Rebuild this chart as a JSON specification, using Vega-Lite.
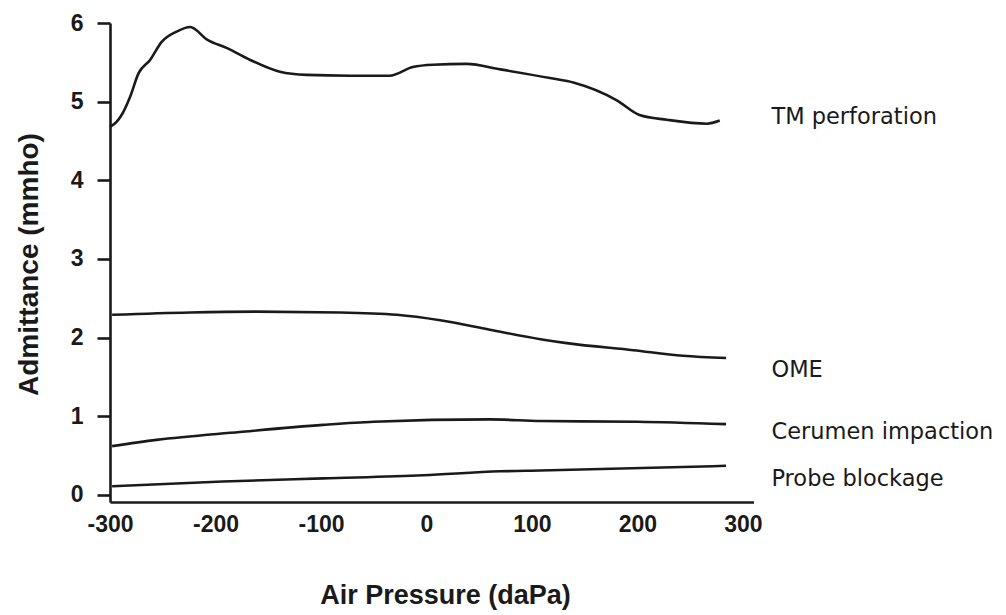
{
  "$schema": "https://vega.github.io/schema/vega-lite/v6.json",
  "width": 643.5,
  "height": 479,
  "autosize": "none",
  "padding": {"left": 110, "top": 23, "right": 252.5, "bottom": 113},
  "background": "white",
  "config": {"view": {"stroke": null}},
  "datasets": {
    "curves": [
      {"series": "TM perforation", "pressure": -300, "admittance": 4.68},
      {"series": "TM perforation", "pressure": -294, "admittance": 4.74},
      {"series": "TM perforation", "pressure": -289, "admittance": 4.83},
      {"series": "TM perforation", "pressure": -281, "admittance": 5.06},
      {"series": "TM perforation", "pressure": -273, "admittance": 5.36},
      {"series": "TM perforation", "pressure": -262, "admittance": 5.53},
      {"series": "TM perforation", "pressure": -251, "admittance": 5.76},
      {"series": "TM perforation", "pressure": -237, "admittance": 5.89},
      {"series": "TM perforation", "pressure": -224, "admittance": 5.95},
      {"series": "TM perforation", "pressure": -208, "admittance": 5.79},
      {"series": "TM perforation", "pressure": -189, "admittance": 5.68},
      {"series": "TM perforation", "pressure": -167, "admittance": 5.53},
      {"series": "TM perforation", "pressure": -139, "admittance": 5.38},
      {"series": "TM perforation", "pressure": -114, "admittance": 5.34},
      {"series": "TM perforation", "pressure": -72, "admittance": 5.33},
      {"series": "TM perforation", "pressure": -35, "admittance": 5.33},
      {"series": "TM perforation", "pressure": -13, "admittance": 5.44},
      {"series": "TM perforation", "pressure": 6, "admittance": 5.47},
      {"series": "TM perforation", "pressure": 38, "admittance": 5.48},
      {"series": "TM perforation", "pressure": 70, "admittance": 5.41},
      {"series": "TM perforation", "pressure": 117, "admittance": 5.3},
      {"series": "TM perforation", "pressure": 140, "admittance": 5.24},
      {"series": "TM perforation", "pressure": 180, "admittance": 5.02},
      {"series": "TM perforation", "pressure": 202, "admittance": 4.83},
      {"series": "TM perforation", "pressure": 228, "admittance": 4.77},
      {"series": "TM perforation", "pressure": 266, "admittance": 4.72},
      {"series": "TM perforation", "pressure": 278, "admittance": 4.76},
      {"series": "OME", "pressure": -298, "admittance": 2.29},
      {"series": "OME", "pressure": -224, "admittance": 2.32},
      {"series": "OME", "pressure": -161, "admittance": 2.33},
      {"series": "OME", "pressure": -82, "admittance": 2.32},
      {"series": "OME", "pressure": -28, "admittance": 2.29},
      {"series": "OME", "pressure": 13, "admittance": 2.22},
      {"series": "OME", "pressure": 60, "admittance": 2.1},
      {"series": "OME", "pressure": 108, "admittance": 1.98},
      {"series": "OME", "pressure": 133, "admittance": 1.93},
      {"series": "OME", "pressure": 196, "admittance": 1.84},
      {"series": "OME", "pressure": 243, "admittance": 1.77},
      {"series": "OME", "pressure": 284, "admittance": 1.74},
      {"series": "Cerumen impaction", "pressure": -298, "admittance": 0.62},
      {"series": "Cerumen impaction", "pressure": -256, "admittance": 0.7},
      {"series": "Cerumen impaction", "pressure": -177, "admittance": 0.8},
      {"series": "Cerumen impaction", "pressure": -98, "admittance": 0.89},
      {"series": "Cerumen impaction", "pressure": -50, "admittance": 0.93},
      {"series": "Cerumen impaction", "pressure": 60, "admittance": 0.96},
      {"series": "Cerumen impaction", "pressure": 108, "admittance": 0.94},
      {"series": "Cerumen impaction", "pressure": 200, "admittance": 0.93},
      {"series": "Cerumen impaction", "pressure": 284, "admittance": 0.9},
      {"series": "Probe blockage", "pressure": -298, "admittance": 0.11},
      {"series": "Probe blockage", "pressure": -193, "admittance": 0.17},
      {"series": "Probe blockage", "pressure": -98, "admittance": 0.21},
      {"series": "Probe blockage", "pressure": -3, "admittance": 0.25},
      {"series": "Probe blockage", "pressure": 70, "admittance": 0.3},
      {"series": "Probe blockage", "pressure": 108, "admittance": 0.31},
      {"series": "Probe blockage", "pressure": 284, "admittance": 0.37}
    ],
    "labels": [
      {"label": "TM perforation", "pressure": 327, "admittance": 4.81},
      {"label": "OME", "pressure": 327, "admittance": 1.59},
      {"label": "Cerumen impaction", "pressure": 327, "admittance": 0.8},
      {"label": "Probe blockage", "pressure": 327, "admittance": 0.2}
    ]
  },
  "layer": [
    {
      "data": {"name": "curves"},
      "mark": {"type": "line", "color": "#1a1a1a", "strokeWidth": 2.6, "interpolate": "monotone", "clip": false},
      "encoding": {
        "x": {
          "field": "pressure", "type": "quantitative",
          "scale": {"domain": [-300, 310], "nice": false, "zero": false},
          "axis": {
            "values": [-300, -200, -100, 0, 100, 200, 300],
            "labelExpr": "datum.value < 0 ? '-' + abs(datum.value) : '' + datum.value",
            "title": "Air Pressure (daPa)",
            "grid": false, "ticks": false,
            "domainColor": "#1a1a1a", "domainWidth": 2.6,
            "labelFont": "Liberation Sans", "labelFontSize": 23, "labelFontWeight": "bold", "labelColor": "#1a1a1a",
            "labelPadding": 11, "labelFlush": false,
            "titleFont": "Liberation Sans", "titleFontSize": 27, "titleFontWeight": "bold", "titleColor": "#1a1a1a",
            "titleX": 335, "titleY": 101, "titleBaseline": "alphabetic", "titleAlign": "center"
          }
        },
        "y": {
          "field": "admittance", "type": "quantitative",
          "scale": {"domain": [-0.09, 6], "nice": false, "zero": false},
          "axis": {
            "values": [0, 1, 2, 3, 4, 5, 6],
            "labelExpr": "'' + datum.value",
            "title": "Admittance (mmho)",
            "grid": false, "tickSize": 13, "tickWidth": 2.6, "tickColor": "#1a1a1a",
            "domainColor": "#1a1a1a", "domainWidth": 2.6,
            "labelFont": "Liberation Sans", "labelFontSize": 23, "labelFontWeight": "bold", "labelColor": "#1a1a1a",
            "labelPadding": 14, "labelFlush": false,
            "titleFont": "Liberation Sans", "titleFontSize": 28, "titleFontWeight": "bold", "titleColor": "#1a1a1a",
            "titleX": -81, "titleY": 241, "titleAngle": -90, "titleAlign": "center", "titleBaseline": "middle"
          }
        },
        "detail": {"field": "series", "type": "nominal"}
      }
    },
    {
      "data": {"name": "labels"},
      "mark": {"type": "text", "align": "left", "baseline": "middle", "font": "DejaVu Sans", "fontSize": 22.5, "color": "#1a1a1a", "clip": false},
      "encoding": {
        "x": {"field": "pressure", "type": "quantitative"},
        "y": {"field": "admittance", "type": "quantitative"},
        "text": {"field": "label", "type": "nominal"}
      }
    }
  ]
}
